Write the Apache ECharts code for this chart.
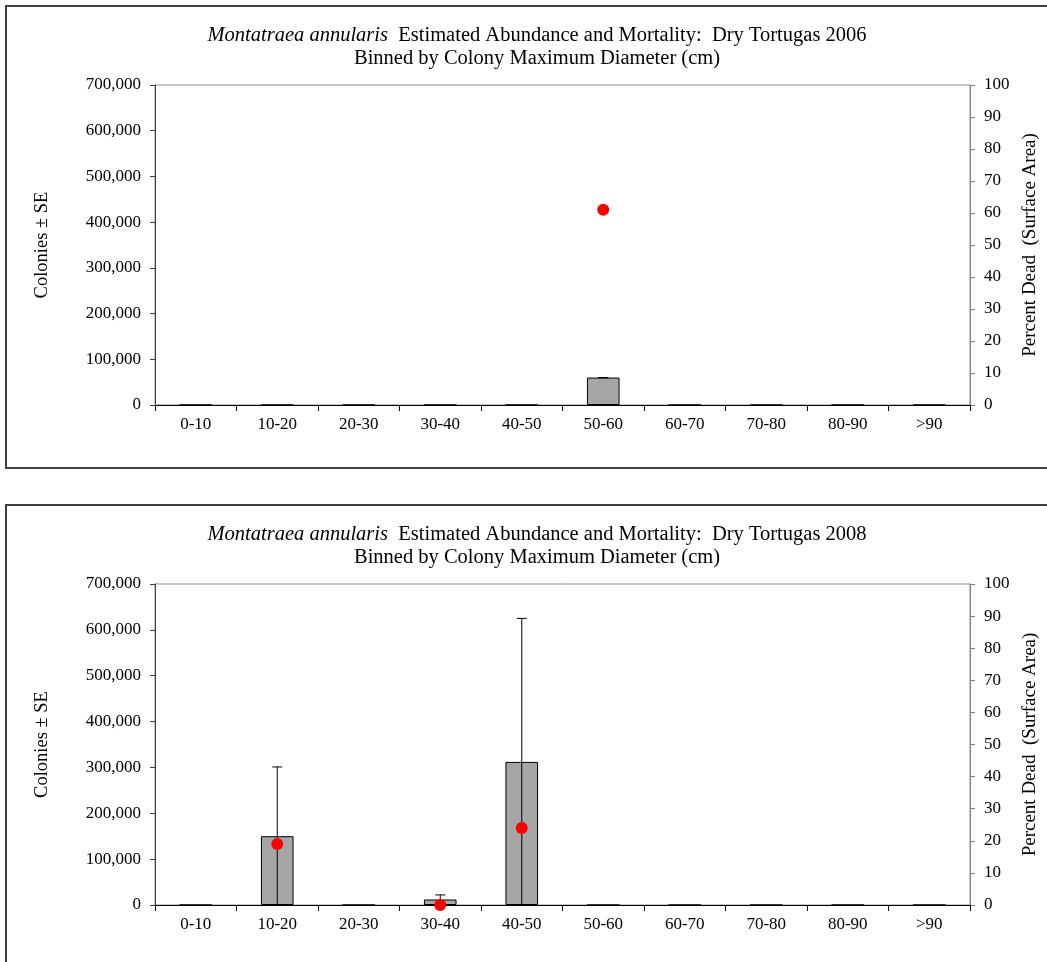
<!DOCTYPE html>
<html>
<head>
<meta charset="utf-8">
<script src="https://cdn.jsdelivr.net/npm/echarts@6/dist/echarts.min.js"></script>
<style>
body{margin:0;background:#fff;overflow:hidden;width:1047px;height:962px;position:relative}
.panel{position:absolute;left:5px;width:1070px;border:2px solid #404040;box-sizing:border-box;background:#fff}
.chart{width:100%;height:100%}
</style>
</head>
<body>
<div class="panel" style="top:5px;height:464px"><div class="chart" id="c2006"></div></div>
<div class="panel" style="top:504px;height:480px"><div class="chart" id="c2008"></div></div>
<script>
var categories = ['0-10','10-20','20-30','30-40','40-50','50-60','60-70','70-80','80-90','>90'];
// 2006
var colonies2006 = [0,0,0,0,0,60000,0,0,0,0];
var se2006 = [0,0,0,0,0,0,0,0,0,0];
var dead2006 = [null,null,null,null,null,61,null,null,null,null];
// 2008
var colonies2008 = [0,150000,0,12000,312000,0,0,0,0,0];
var se2008 = [0,151000,0,10000,313000,0,0,0,0,0];
var dead2008 = [null,19,null,0,24,null,null,null,null,null];
// axes
var coloniesMax = 700000, coloniesStep = 100000;
var deadMax = 100, deadStep = 10;

var serif = 'Liberation Serif';

/*误差线*/
function errorItem(params, api){
	var x = api.value(0);
	var hi = api.coord([x, api.value(1) + api.value(2)]);
	var lo = api.coord([x, api.value(1) - api.value(2)]);
	var st = {stroke:'#000', lineWidth:1};
	return {type:'group', children:[
		{type:'line', shape:{x1:hi[0], y1:hi[1], x2:lo[0], y2:lo[1]}, style:st},
		{type:'line', shape:{x1:hi[0]-5, y1:hi[1], x2:hi[0]+5, y2:hi[1]}, style:st},
		{type:'line', shape:{x1:lo[0]-5, y1:lo[1], x2:lo[0]+5, y2:lo[1]}, style:st}
	]};
}

function drawPanel(id, year, gridHeight, colonies, se, dead){
	var myChart = echarts.init(document.getElementById(id));
	var errData = [];
	for(var i = 0;i<colonies.length;i++){
		if(colonies[i] > 0){
			errData.push([i, colonies[i], se[i]]);
		}
	}
	var dots = dead.map(function(v, i){ return v === null ? [i, '-'] : [i, v]; });
	var option = {
		animation:false,
		title:{
			left:525, top:12, textAlign:'center',
			text:'{i|Montatraea annularis}  Estimated Abundance and Mortality:  Dry Tortugas ' + year + '\nBinned by Colony Maximum Diameter (cm)',
			textStyle:{fontFamily:serif, fontSize:20.5, fontWeight:'normal', color:'#000', lineHeight:23,
				rich:{i:{fontFamily:serif, fontSize:20.5, fontStyle:'italic', color:'#000', lineHeight:23}}}
		},
		grid:{left:148, top:78, width:815, height:gridHeight, show:true, borderColor:'#909090', borderWidth:1, outerBoundsMode:'none'},
		xAxis:{
			type:'category', data:categories,
			axisLine:{lineStyle:{color:'#000', width:1}},
			axisTick:{show:true, length:6, lineStyle:{color:'#000'}},
			axisLabel:{fontFamily:serif, fontSize:17, color:'#000', margin:11}
		},
		yAxis:[
			{
				type:'value', min:0, max:coloniesMax, interval:coloniesStep,
				name:'Colonies \u00b1 SE', nameLocation:'middle', nameGap:103, nameRotate:90,
				nameTextStyle:{fontFamily:serif, fontSize:18.5, color:'#000'},
				axisLine:{show:true, lineStyle:{color:'#404040'}},
				axisTick:{show:true, length:5, lineStyle:{color:'#404040'}},
				splitLine:{show:false},
				axisLabel:{fontFamily:serif, fontSize:17, color:'#000', margin:14,
					formatter:function(v){ return v.toLocaleString('en-US'); }}
			},
			{
				type:'value', min:0, max:deadMax, interval:deadStep, position:'right',
				name:'Percent Dead  (Surface Area)', nameLocation:'middle', nameGap:48, nameRotate:90,
				nameTextStyle:{fontFamily:serif, fontSize:19, color:'#000'},
				axisLine:{show:true, lineStyle:{color:'#808080'}},
				axisTick:{show:true, length:5, lineStyle:{color:'#808080'}},
				splitLine:{show:false},
				axisLabel:{fontFamily:serif, fontSize:17, color:'#000', margin:14}
			}
		],
		series:[
			{
				name:'Colonies', type:'bar', data:colonies, barWidth:'40%',
				itemStyle:{color:'#a6a6a6', borderColor:'#000', borderWidth:1}
			},
			{
				name:'SE', type:'custom', data:errData, renderItem:errorItem, clip:false, z:3,
				encode:{x:0, y:[1,2]}
			},
			{
				name:'Percent Dead', type:'scatter', yAxisIndex:1, data:dots, z:4,
				symbol:'circle', symbolSize:12, itemStyle:{color:'#ff0000', opacity:1}
			}
		]
	};
	myChart.setOption(option);
}

drawPanel('c2006', 2006, 320, colonies2006, se2006, dead2006);
drawPanel('c2008', 2008, 321, colonies2008, se2008, dead2008);
</script>
</body>
</html>
